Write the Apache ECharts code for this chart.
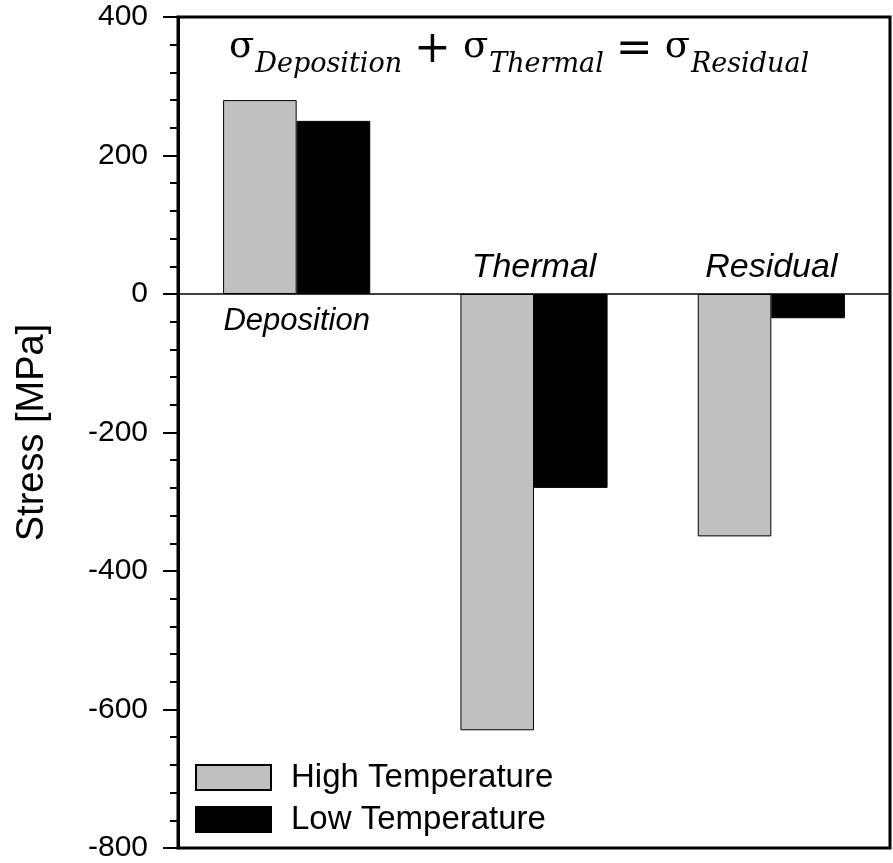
<!DOCTYPE html>
<html><head><meta charset="utf-8">
<script src="https://cdn.jsdelivr.net/npm/echarts@6/dist/echarts.min.js"></script>
<style>html,body{margin:0;padding:0;background:#fff}#c{width:893px;height:863px}</style>
</head><body><div id="c"></div>
<script>
const categories = ['Deposition', 'Thermal', 'Residual'];
const highTemp = [280, -630, -350];
const lowTemp = [250, -280, -35];
const labelSide = ['bottom', 'top', 'top'];
const labelSize = [31, 34, 34];
const seriesNames = ['High Temperature', 'Low Temperature'];
const yTicks = { min: -800, max: 400, interval: 200 };

const chart = echarts.init(document.getElementById('c'));
const font = 'Liberation Sans, Arial, sans-serif';
const serif = 'DejaVu Serif';
chart.setOption({
  animation: false,
  backgroundColor: '#fff',
  title: {
    left: 229, top: 28, padding: 0,
    text: '{s|σ}{b|Deposition}{o|+}{s|σ}{b|Thermal}{o|=}{s|σ}{b|Residual}',
    textStyle: {
      fontWeight: 'normal',
      rich: {
        s: { fontFamily: serif, fontWeight: 'normal', fontSize: 37, color: '#000', verticalAlign: 'bottom', lineHeight: 50, padding: [0, 1, 12, 0] },
        o: { fontFamily: serif, fontWeight: 'normal', fontSize: 44, color: '#000', verticalAlign: 'bottom', lineHeight: 50, padding: [0, 12, 5, 12] },
        b: { fontFamily: serif, fontStyle: 'italic', fontWeight: 'normal', fontSize: 27, color: '#000', verticalAlign: 'bottom', lineHeight: 50 }
      }
    }
  },
  grid: { left: 178, right: 3, top: 17, bottom: 14, show: true, borderColor: '#000', borderWidth: 3, containLabel: false },
  legend: {
    orient: 'vertical', left: 195, top: 761, padding: 0, itemWidth: 75, itemHeight: 25, itemGap: 9,
    icon: 'rect',
    textStyle: { fontFamily: font, fontSize: 33, color: '#000', padding: [0, 0, 0, 15] },
    data: seriesNames
  },
  xAxis: {
    type: 'category', data: categories,
    axisLine: { onZero: true, lineStyle: { color: '#000', width: 1.5 } },
    axisTick: { show: false }, axisLabel: { show: false }, splitLine: { show: false }
  },
  yAxis: {
    type: 'value', min: yTicks.min, max: yTicks.max, interval: yTicks.interval,
    name: 'Stress [MPa]', nameLocation: 'middle', nameGap: 126,
    nameTextStyle: { fontFamily: font, fontSize: 38, color: '#000' },
    axisLine: { show: true, lineStyle: { color: '#000', width: 3 } },
    axisTick: { show: true, length: 15, lineStyle: { color: '#000', width: 2 } },
    minorTick: { show: true, splitNumber: 5, length: 8, lineStyle: { color: '#000', width: 2 } },
    axisLabel: { fontFamily: font, fontSize: 30, color: '#000', margin: 30 },
    splitLine: { show: false }
  },
  series: [
    { name: seriesNames[0], type: 'bar', data: highTemp, barGap: '0%', barCategoryGap: '38%',
      itemStyle: { color: '#c0c0c0', borderColor: '#000', borderWidth: 1 } },
    { name: seriesNames[1], type: 'bar', data: lowTemp, barGap: '0%', barCategoryGap: '38%',
      itemStyle: { color: '#000', borderColor: '#000', borderWidth: 1 } },
    { type: 'scatter', symbolSize: 0, silent: true, itemStyle: { opacity: 1 },
      data: categories.map((c, i) => ({ value: [c, 0],
        label: { position: labelSide[i], fontSize: labelSize[i], distance: labelSide[i] === 'top' ? 9 : 12 } })),
      label: { show: true, formatter: p => categories[p.dataIndex],
        fontFamily: font, fontStyle: 'italic', color: '#000' } }
  ]
});
</script></body></html>
